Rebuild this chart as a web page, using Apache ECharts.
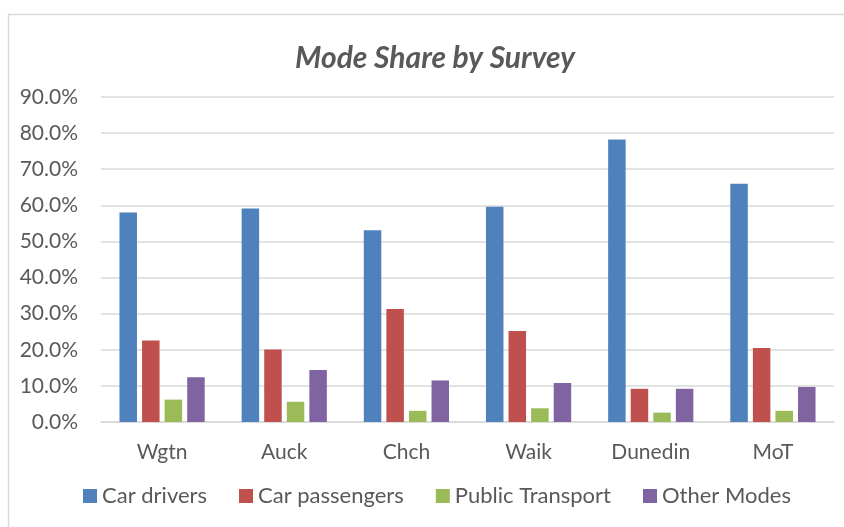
<!DOCTYPE html>
<html>
<head>
<meta charset="utf-8">
<script src="https://cdn.jsdelivr.net/npm/echarts@6/dist/echarts.min.js"></script>
<style>
  html, body { margin: 0; padding: 0; background: #ffffff; }
  #chart { width: 844px; height: 527px; }
</style>
</head>
<body>
<div id="chart"></div>
<script>
// Survey areas along the x axis
const surveys = ['Wgtn', 'Auck', 'Chch', 'Waik', 'Dunedin', 'MoT'];

// Mode share (%) per survey
const carDrivers      = [58.0, 59.1, 53.1, 59.6, 78.2, 66.0];
const carPassengers   = [22.6, 20.1, 31.3, 25.2,  9.2, 20.5];
const publicTransport = [ 6.2,  5.6,  3.1,  3.8,  2.6,  3.1];
const otherModes      = [12.4, 14.4, 11.5, 10.8,  9.2,  9.7];

const seriesNames = ['Car drivers', 'Car passengers', 'Public Transport', 'Other Modes'];
const seriesColors = ['#4f81bd', '#c0504d', '#9bbb59', '#8064a2'];
const seriesData = [carDrivers, carPassengers, publicTransport, otherModes];

const FONT = 'Lato';
const TEXT = '#595959';

const chart = echarts.init(document.getElementById('chart'), null, { renderer: 'canvas' });

chart.setOption({
  backgroundColor: '#ffffff',
  animation: false,
  graphic: [{
    type: 'rect',
    shape: { x: 8.5, y: 14.5, width: 900, height: 600 },
    style: { fill: 'none', stroke: '#d9d9d9', lineWidth: 1.5 },
    silent: true
  }],
  title: {
    text: 'Mode Share by Survey',
    left: 430,
    top: 38,
    textAlign: 'center',
    textStyle: {
      fontFamily: FONT,
      fontSize: 30,
      fontWeight: 'bold',
      fontStyle: 'italic',
      color: TEXT
    }
  },
  legend: {
    left: 78,
    top: 480,
    itemWidth: 14,
    itemHeight: 14,
    itemGap: 32,
    icon: 'rect',
    textStyle: { fontFamily: FONT, fontSize: 22, color: TEXT },
    data: seriesNames
  },
  grid: { left: 101, right: 10, top: 97, bottom: 105, containLabel: false },
  xAxis: {
    type: 'category',
    data: surveys,
    axisLine: { show: true, lineStyle: { color: '#d9d9d9', width: 1.5 } },
    axisTick: { show: false },
    axisLabel: { fontFamily: FONT, fontSize: 21, color: TEXT, margin: 20 }
  },
  yAxis: {
    type: 'value',
    min: 0,
    max: 90,
    interval: 10,
    axisLine: { show: false },
    axisTick: { show: false },
    splitLine: { lineStyle: { color: '#d9d9d9', width: 1.5 } },
    axisLabel: {
      fontFamily: FONT, fontSize: 21, color: TEXT, margin: 23,
      formatter: v => v.toFixed(1) + '%'
    }
  },
  series: seriesNames.map((name, i) => ({
    name: name,
    type: 'bar',
    data: seriesData[i],
    barWidth: 17.5,
    barGap: '29%',
    itemStyle: { color: seriesColors[i] }
  }))
});
</script>
</body>
</html>
